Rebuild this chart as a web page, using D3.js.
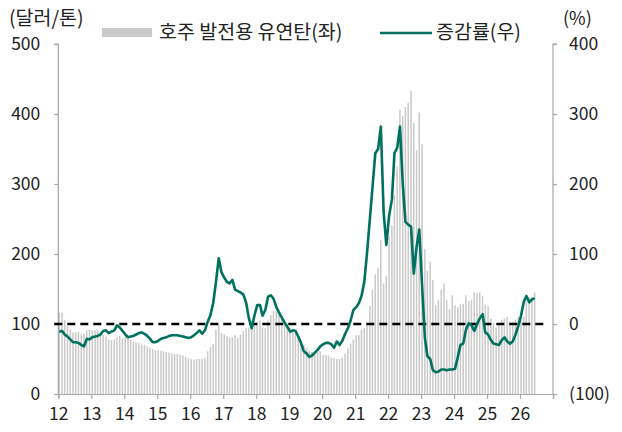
<!DOCTYPE html>
<html>
<head>
<meta charset="utf-8">
<script src="https://cdn.jsdelivr.net/npm/d3@7"></script>
<style>
  body { margin: 0; background: #fff; }
  svg text { font-family: "Noto Sans CJK KR", "Noto Sans", sans-serif; fill: #222; }
</style>
</head>
<body>
<div id="chart"></div>
<script>
// monthly data, Jan 2012 ~ Jun 2026
var startMonth = new Date(2012, 0, 1);

// 호주 발전용 유연탄 (달러/톤)
var coalPrice = [
  116,116,106,97,92,88,88,89,85,86,91,92,      // 2012
  91,91,90,88,85,82,78,77,78,81,83,80,         // 2013
  82,80,78,75,74,73,71,70,68,66,64,62,         // 2014
  62,62,61,60,59,58,57,57,56,55,53,51,         // 2015
  50,49,50,50,50,51,61,67,71,92,99,87,         // 2016
  85,82,80,81,84,80,85,90,94,95,96,100,        // 2017
  103,105,95,94,105,113,119,118,113,108,103,99,// 2018
  95,90,88,82,78,70,66,62,60,60,60,61,         // 2019
  56,56,55,52,51,50,50,52,58,65,72,78,         // 2020
  84,84,92,94,102,126,149,171,180,220,158,169, // 2021
  225,241,284,325,406,397,410,416,433,387,348,402, // 2022
  357,207,176,189,163,127,134,149,158,134,121,141, // 2023
  127,124,128,129,141,133,134,145,144,145,140,127, // 2024
  125,108,101,95,99,106,108,110,103,103,106,110,   // 2025
  107,110,132,139,138,145                          // 2026
];

// 증감률 (%, YoY)
var yoyChange = [
  -11,-10,-15,-18,-22,-26,-26,-27,-30,-32,-21,-22,
  -19,-18,-17,-15,-10,-9,-13,-11,-9,-2,-5,-10,
  -15,-19,-18,-17,-15,-13,-12,-14,-17,-21,-26,-26,
  -24,-21,-20,-19,-17,-16,-16,-16,-17,-18,-19,-20,
  -19,-16,-13,-9,-14,-9,3,13,30,60,94,74,
  66,60,58,63,49,47,45,42,30,8,-6,12,
  27,27,12,20,39,41,36,24,16,9,2,-4,
  -11,-9,-10,-18,-27,-39,-42,-47,-45,-41,-37,-32,
  -29,-27,-27,-29,-34,-25,-30,-24,-14,-6,5,20,
  24,30,40,60,101,149,196,244,250,282,160,113,
  155,178,244,252,282,200,146,142,139,72,110,135,
  55,-20,-46,-50,-66,-69,-68,-65,-65,-66,-65,-65,
  -64,-47,-30,-28,-8,1,-2,-10,0,8,14,-12,
  -15,-23,-28,-29,-30,-23,-19,-25,-28,-25,-15,-3,
  12,32,40,31,35,37
];

var yearLabels = ["12","13","14","15","16","17","18","19","20","21","22","23","24","25","26"];
var leftTicks = [0,100,200,300,400,500];
var rightTicks = [-100,0,100,200,300,400];

var width = 622, height = 432;
var x0 = 58.3, x1 = 553, yTop = 44, yBot = 394;
var gray = "#a6a6a6", barColor = "#c9c9c9", teal = "#00705f";

var data = coalPrice.map(function(v, i){
  return { date: d3.timeMonth.offset(startMonth, i), price: v, yoy: yoyChange[i] };
});

var svg = d3.select("#chart").append("svg").attr("width", width).attr("height", height);

var x = d3.scaleTime().domain([new Date(2012,0,1), new Date(2027,0,1)]).range([x0, x1]);
var yL = d3.scaleLinear().domain([0, 500]).range([yBot, yTop]);
var yR = d3.scaleLinear().domain([-100, 400]).range([yBot, yTop]);

// bars
svg.append("g").selectAll("rect")
  .data(data)
  .enter().append("rect")
  .attr("x", function(d){ return x(d.date) + 0.2; })
  .attr("y", function(d){ return yL(d.price); })
  .attr("width", 1.5)
  .attr("height", function(d){ return yBot - yL(d.price); })
  .attr("fill", barColor);

// axes
var xAxis = d3.axisBottom(x)
  .tickValues(yearLabels.map(function(y, i){ return new Date(2012 + i, 0, 1); }).concat([new Date(2027,0,1)]))
  .tickSize(5)
  .tickFormat(function(d){ var s = d3.timeFormat("%y")(d); return yearLabels.indexOf(s) >= 0 ? s : ""; });
var gx = svg.append("g").attr("transform", "translate(0," + yBot + ")").call(xAxis);

var gl = svg.append("g").attr("transform", "translate(" + x0 + ",0)")
  .call(d3.axisLeft(yL).tickValues(leftTicks).tickSize(4).tickPadding(14));
var gr = svg.append("g").attr("transform", "translate(" + x1 + ",0)")
  .call(d3.axisRight(yR).tickValues(rightTicks).tickSize(4).tickPadding(12)
    .tickFormat(function(d){ return d < 0 ? "(" + Math.abs(d) + ")" : d; }));

[gx, gl, gr].forEach(function(g){
  g.select(".domain").attr("stroke", gray).attr("stroke-width", 1.2);
  g.selectAll(".tick line").attr("stroke", gray).attr("stroke-width", 1.2);
  g.selectAll(".tick text").attr("fill", "#222").style("font-size", "17.5px");
});
gx.selectAll(".tick text").attr("dy", "1.05em");
gl.select(".domain").attr("d", "M-4," + yTop + "H0V" + yBot);
gr.select(".domain").attr("d", "M4," + yTop + "H0V" + yBot);

// zero line (dashed)
svg.append("line")
  .attr("x1", x0 - 4).attr("x2", x1 - 5)
  .attr("y1", yR(0)).attr("y2", yR(0))
  .attr("stroke", "#000").attr("stroke-width", 2.4)
  .attr("stroke-dasharray", "8,5");

// yoy line
var line = d3.line()
  .x(function(d){ return x(d.date) + 1; })
  .y(function(d){ return yR(d.yoy); });
svg.append("path")
  .datum(data)
  .attr("d", line)
  .attr("fill", "none")
  .attr("stroke", teal)
  .attr("stroke-width", 2.6)
  .attr("stroke-linejoin", "round");

// units
svg.append("text").attr("x", 9).attr("y", 25).style("font-size", "19.5px").text("(달러/톤)");
svg.append("text").attr("x", 563).attr("y", 25).style("font-size", "18px").text("(%)");

// legend
svg.append("rect").attr("x", 102).attr("y", 28).attr("width", 50).attr("height", 9).attr("fill", barColor);
svg.append("text").attr("x", 159).attr("y", 39).style("font-size", "19.5px").text("호주 발전용 유연탄(좌)");
svg.append("line").attr("x1", 380).attr("x2", 432).attr("y1", 33).attr("y2", 33)
  .attr("stroke", teal).attr("stroke-width", 2.6);
svg.append("text").attr("x", 436).attr("y", 39).style("font-size", "19.5px").text("증감률(우)");
</script>
</body>
</html>
